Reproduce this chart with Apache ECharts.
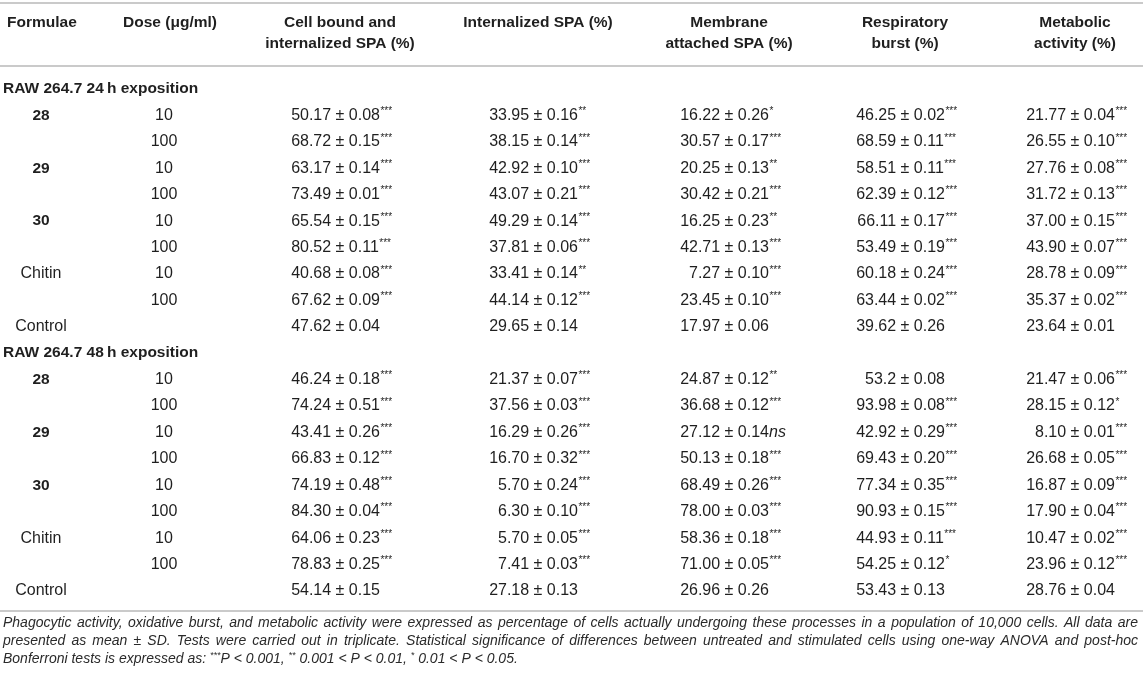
<!DOCTYPE html>
<html lang="en">

<head>
  <meta charset="UTF-8">
  <title>SPA phagocytosis table</title>
  <style>
    html,
    body {
      margin: 0;
      padding: 0;
      background: #ffffff;
    }

    #main {
      width: 1143px;
      height: 678px;
    }
  </style>
  <script src="https://cdn.jsdelivr.net/npm/echarts@6.0.0/dist/echarts.min.js"></script>
</head>

<body>
  <div id="main"></div>

  <script>
    // ---- data ----
    var groupTitles = ['RAW 264.7 24\u2009h exposition', 'RAW 264.7 48\u2009h exposition'];
    var formulaLabels = ['28', '', '29', '', '30', '', 'Chitin', '', 'Control'];
    var formulaBold = [true, false, true, false, true, false, false, false, false];
    var doses = ['10', '100', '10', '100', '10', '100', '10', '100', ''];
    var columnTitles = ['Formulae', 'Dose (\u03bcg/ml)', 'Cell bound and\ninternalized SPA (%)', 'Internalized SPA (%)',
      'Membrane\nattached SPA (%)', 'Respiratory\nburst (%)', 'Metabolic\nactivity (%)'];

    // 24 h
    var cellBound24 = ['50.17 ± 0.08***', '68.72 ± 0.15***', '63.17 ± 0.14***', '73.49 ± 0.01***', '65.54 ± 0.15***', '80.52 ± 0.11***', '40.68 ± 0.08***', '67.62 ± 0.09***', '47.62 ± 0.04'];
    var internalized24 = ['33.95 ± 0.16**', '38.15 ± 0.14***', '42.92 ± 0.10***', '43.07 ± 0.21***', '49.29 ± 0.14***', '37.81 ± 0.06***', '33.41 ± 0.14**', '44.14 ± 0.12***', '29.65 ± 0.14'];
    var membrane24 = ['16.22 ± 0.26*', '30.57 ± 0.17***', '20.25 ± 0.13**', '30.42 ± 0.21***', '16.25 ± 0.23**', '42.71 ± 0.13***', '7.27 ± 0.10***', '23.45 ± 0.10***', '17.97 ± 0.06'];
    var respiratory24 = ['46.25 ± 0.02***', '68.59 ± 0.11***', '58.51 ± 0.11***', '62.39 ± 0.12***', '66.11 ± 0.17***', '53.49 ± 0.19***', '60.18 ± 0.24***', '63.44 ± 0.02***', '39.62 ± 0.26'];
    var metabolic24 = ['21.77 ± 0.04***', '26.55 ± 0.10***', '27.76 ± 0.08***', '31.72 ± 0.13***', '37.00 ± 0.15***', '43.90 ± 0.07***', '28.78 ± 0.09***', '35.37 ± 0.02***', '23.64 ± 0.01'];

    // 48 h
    var cellBound48 = ['46.24 ± 0.18***', '74.24 ± 0.51***', '43.41 ± 0.26***', '66.83 ± 0.12***', '74.19 ± 0.48***', '84.30 ± 0.04***', '64.06 ± 0.23***', '78.83 ± 0.25***', '54.14 ± 0.15'];
    var internalized48 = ['21.37 ± 0.07***', '37.56 ± 0.03***', '16.29 ± 0.26***', '16.70 ± 0.32***', '5.70 ± 0.24***', '6.30 ± 0.10***', '5.70 ± 0.05***', '7.41 ± 0.03***', '27.18 ± 0.13'];
    var membrane48 = ['24.87 ± 0.12**', '36.68 ± 0.12***', '27.12 ± 0.14ns', '50.13 ± 0.18***', '68.49 ± 0.26***', '78.00 ± 0.03***', '58.36 ± 0.18***', '71.00 ± 0.05***', '26.96 ± 0.26'];
    var respiratory48 = ['53.2 ± 0.08', '93.98 ± 0.08***', '42.92 ± 0.29***', '69.43 ± 0.20***', '77.34 ± 0.35***', '90.93 ± 0.15***', '44.93 ± 0.11***', '54.25 ± 0.12*', '53.43 ± 0.13'];
    var metabolic48 = ['21.47 ± 0.06***', '28.15 ± 0.12*', '8.10 ± 0.01***', '26.68 ± 0.05***', '16.87 ± 0.09***', '17.90 ± 0.04***', '10.47 ± 0.02***', '23.96 ± 0.12***', '28.76 ± 0.04'];

    var footnoteLines = [
      'Phagocytic activity, oxidative burst, and metabolic activity were expressed as percentage of cells actually undergoing these processes in a population of 10,000 cells. All data are',
      'presented as mean \u00b1 SD. Tests were carried out in triplicate. Statistical significance of differences between untreated and stimulated cells using one-way ANOVA and post-hoc',
      'Bonferroni tests is expressed as: ***P < 0.001, ** 0.001 < P < 0.01, * 0.01 < P < 0.05.'
    ];

    // ---- layout ----
    var W = 1143;
    var colCenter = [41, 164, 340, 538, 729, 905, 1075];   // data anchors (value cols: centre of the ± sign)
    var headCenter = [7, 170, 340, 538, 729, 905, 1075];   // header: first one is a left edge
    var groupX = 3;
    var FAMILY = '"Liberation Sans", Arial, Helvetica, sans-serif';
    var FS = 16;       // cell values
    var FSB = 15.5;    // bold labels
    var FSN = 14;      // footnote
    var TEXT = '#1f1f1f';
    var RULE = '#b8b8b8';

    var blocks = [
      [cellBound24, internalized24, membrane24, respiratory24, metabolic24],
      [cellBound48, internalized48, membrane48, respiratory48, metabolic48]
    ];

    // row keys for the category axis: group title + 9 rows per block
    var rowKeys = [];
    var cells = [];
    blocks.forEach(function (cols, b) {
      var g = rowKeys.length;
      rowKeys.push('g' + b);
      cells.push({ kind: 'group', x: groupX, row: g, text: groupTitles[b] });
      for (var i = 0; i < doses.length; i++) {
        var r = rowKeys.length;
        rowKeys.push('r' + b + '_' + i);
        if (formulaLabels[i]) cells.push({ kind: 'formula', x: colCenter[0], row: r, text: formulaLabels[i], bold: formulaBold[i] });
        if (doses[i]) cells.push({ kind: 'plain', x: colCenter[1], row: r, text: doses[i] });
        cols.forEach(function (arr, c) {
          cells.push({ kind: 'value', x: colCenter[c + 2], row: r, text: arr[i] });
        });
      }
    });

    var ctx = document.createElement('canvas').getContext('2d');
    function font(size, weight, style) {
      return (style || 'normal') + ' ' + (weight || 'normal') + ' ' + size + 'px ' + FAMILY;
    }
    function measure(s, f) {
      ctx.font = f;
      return ctx.measureText(s).width;
    }
    function txt(s, x, y, opt) {
      opt = opt || {};
      return {
        type: 'text',
        style: {
          text: s, x: x, y: y,
          font: font(opt.size || FS, opt.weight, opt.style),
          fill: opt.fill || TEXT,
          align: opt.align || 'left', textAlign: opt.align || 'left',
          verticalAlign: opt.va || 'middle', textVerticalAlign: opt.va || 'middle',
          lineHeight: opt.lineHeight
        }
      };
    }

    function renderCell(params, api) {
      var c = cells[params.dataIndex];
      var pt = api.coord([api.value(0), api.value(1)]);
      var x = pt[0], y = pt[1];
      if (c.kind === 'group') return txt(c.text, x, y, { weight: 'bold', size: FSB });
      if (c.kind === 'formula') return txt(c.text, x, y, { weight: c.bold ? 'bold' : 'normal', size: c.bold ? FSB : FS, align: 'center' });
      if (c.kind === 'plain') return txt(c.text, x, y, { align: 'center' });
      // value ± sd with significance marks, aligned on the ± sign
      var m = c.text.match(/^(.*?)(\*+|ns)?$/);
      var main = m[1], sig = m[2] || '';
      var f = font(FS);
      var pre = main.split('±')[0];
      var x0 = x - measure(pre, f) - measure('±', f) / 2;
      var wMain = measure(main, f);
      var children = [txt(main, x0, y)];
      if (sig === 'ns') children.push(txt('ns', x0 + wMain, y, { style: 'italic' }));
      else if (sig) children.push(txt(sig, x0 + wMain + 0.5, y - 4, { size: 10 }));
      return { type: 'group', children: children };
    }

    // footnote: words laid out by measuring, first two lines justified
    function footnoteLine(line, y, justify) {
      var f = font(FSN, 'normal', 'italic');
      var fs = font(9, 'normal', 'italic');
      var words = line.split(' ');
      var pieces = words.map(function (w) {
        var parts = w.match(/\*+|[^*]+/g);
        var width = 0;
        var list = parts.map(function (p) {
          var star = p.charAt(0) === '*';
          var pw = measure(p, star ? fs : f);
          var item = { text: p, star: star, dx: width };
          width += pw;
          return item;
        });
        return { parts: list, width: width };
      });
      var total = pieces.reduce(function (s, p) { return s + p.width; }, 0);
      var x1 = 3, x2 = W - 5;
      var gap = justify ? (x2 - x1 - total) / (pieces.length - 1) : measure(' ', f);
      var els = [];
      var x = x1;
      pieces.forEach(function (p) {
        p.parts.forEach(function (q) {
          if (q.star) els.push(txt(q.text, x + q.dx, y - 4, { size: 9, style: 'italic', fill: '#2a2a2a' }));
          else els.push(txt(q.text, x + q.dx, y, { size: FSN, style: 'italic', fill: '#2a2a2a' }));
        });
        x += p.width + gap;
      });
      return els;
    }

    var graphics = [];
    function rule(y) {
      graphics.push({ type: 'line', shape: { x1: 0, y1: y, x2: W, y2: y }, style: { stroke: RULE, lineWidth: 1.6 } });
    }
    rule(3);
    rule(66);
    rule(611);

    columnTitles.forEach(function (t, i) {
      var el = txt(t, headCenter[i], 12.5, { weight: 'bold', size: FSB, align: i === 0 ? 'left' : 'center', va: 'top', lineHeight: 21 });
      graphics.push(el);
    });

    var footY = [623, 641, 659];
    footnoteLines.forEach(function (l, i) {
      graphics = graphics.concat(footnoteLine(l, footY[i], i < 2));
    });

    var chart = echarts.init(document.getElementById('main'), null, { renderer: 'canvas' });
    var option = {
      animation: false,
      backgroundColor: '#ffffff',
      grid: { left: 0, right: 0, top: 75.8, height: 528.4 },
      xAxis: { type: 'value', min: 0, max: W, show: false },
      yAxis: { type: 'category', data: rowKeys, inverse: true, show: false },
      series: [{
        type: 'custom',
        clip: false,
        silent: true,
        renderItem: renderCell,
        data: cells.map(function (c) { return [c.x, c.row]; })
      }],
      graphic: graphics
    };
    chart.setOption(option);
  </script>
</body>

</html>
